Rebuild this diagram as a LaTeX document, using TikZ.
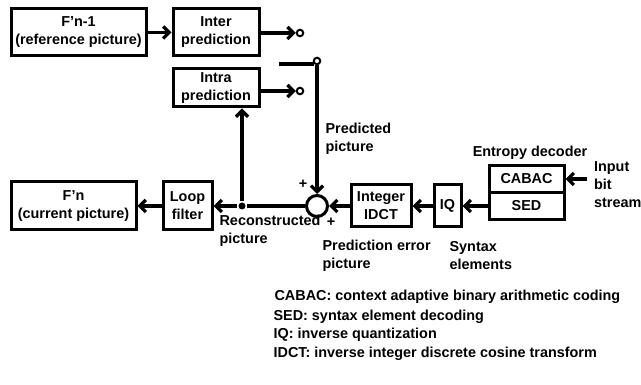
\documentclass[tikz,border=0pt]{standalone}
\usepackage{fontspec}
\setmainfont{Liberation Sans}
\usetikzlibrary{arrows.meta}

\tikzset{
  blk/.style={draw, line width=3pt, align=center, inner sep=0pt},
  lbl/.style={align=left, inner sep=0pt, anchor=west},
  port/.style={draw, circle, line width=2pt, minimum size=6.5pt, inner sep=0pt},
  dot/.style={fill, circle, minimum size=7pt, inner sep=0pt}
}

\begin{document}
\begin{tikzpicture}[x=1pt, y=-1pt, line width=3.2pt,
    >={Straight Barb[length=6pt,width=12pt]},
    every node/.style={font=\fontsize{14.4}{18}\selectfont\bfseries}]
      \useasboundingbox (0,0) rectangle (641,385);
      % blocks
      \node[blk, minimum width=135, minimum height=47] (fn1) at (78.5,32.5) {F’n-1\\(reference picture)};
      \node[blk, minimum width=86, minimum height=47] (inter) at (216,32.5) {Inter\\prediction};
      \node[blk, minimum width=86, minimum height=38] (intra) at (216,88) {Intra\\prediction};
      \node[blk, minimum width=125, minimum height=48] (fn) at (73.5,206) {F’n\\(current picture)};
      \node[blk, minimum width=49, minimum height=48] (loop) at (187.5,206) {Loop\\filter};
      \node[blk, minimum width=60, minimum height=42] (idct) at (381,206) {Integer\\IDCT};
      \node[blk, minimum width=27, minimum height=42] (iq) at (447.5,206) {IQ};
      \node[blk, minimum width=75, minimum height=27] (cabac) at (526.5,179) {CABAC};
      \node[blk, minimum width=75, minimum height=27] (sed) at (526.5,206) {SED};
      \node[draw, circle, line width=3pt, minimum size=21, inner sep=0pt] (sum) at (317,206) {};
      % switch
      \node[port] (sw1) at (300,33) {};
      \node[port] (sw2) at (300,91) {};
      \node[port] (pivot) at (317,61) {};
      \coordinate (blade) at (279,64);
      \node[dot] (junc) at (242,206) {};
      \coordinate (input) at (587,179);
      % labels
      \node[lbl] (predl) at (324,139) {Predicted\\picture};
      \node[lbl] (recl) at (218,231) {Reconstructed\\picture};
      \node[lbl] (errl) at (321,256) {Prediction error\\picture};
      \node[lbl] (synl) at (448,256) {Syntax\\elements};
      \node[inner sep=0pt] (entl) at (530,153) {Entropy decoder};
      \node[lbl] (inl) at (592.5,185) {Input\\bit\\stream};
      \node[inner sep=0pt] (plus1) at (303,184) {+};
      \node[inner sep=0pt] (plus2) at (331,222) {+};
      % legend
      \node[lbl] (leg1) at (273,297) {CABAC: context adaptive binary arithmetic coding};
      \node[lbl] (leg2) at (272,317) {SED: syntax element decoding};
      \node[lbl] (leg3) at (272,335) {IQ: inverse quantization};
      \node[lbl] (leg4) at (272,354) {IDCT: inverse integer discrete cosine transform};
      \begin{scope}[->]
        \draw (fn1) to (inter);
        \draw (inter.east |- sw1) to (sw1);
        \draw (intra.east |- sw2) to (sw2);
        \draw (pivot) to (sum);
        \draw (input) to (cabac);
        \draw (sed) to (iq);
        \draw (iq) to (idct);
        \draw (idct) to (sum);
        \draw (junc) to (loop);
        \draw (loop) to (fn);
        \draw (junc) to (junc |- intra.south);
      \end{scope}
      \draw (sum) to (junc);
      \draw (blade) to (blade -| pivot.south west);
    \end{tikzpicture}
\end{document}
